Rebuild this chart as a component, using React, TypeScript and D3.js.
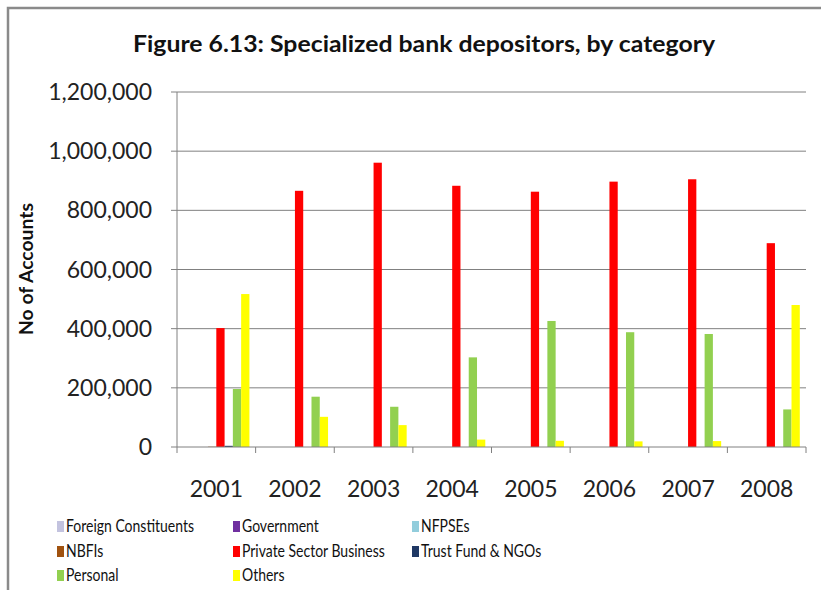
import React from "react";
import * as d3 from "d3";

const years = ["2001", "2002", "2003", "2004", "2005", "2006", "2007", "2008"];
const seriesNames = [
  "Foreign Constituents",
  "Government",
  "NFPSEs",
  "NBFIs",
  "Private Sector Business",
  "Trust Fund & NGOs",
  "Personal",
  "Others",
];
const seriesColors = ["#C3C3DF", "#7030A0", "#92CDDC", "#A0520F", "#FF0000", "#1F3864", "#92D050", "#FFFF00"];

const foreign = [0, 0, 0, 0, 0, 0, 0, 0];
const government = [0, 0, 0, 0, 0, 0, 0, 0];
const nfpses = [0, 0, 0, 0, 0, 0, 0, 0];
const nbfis = [1000, 0, 0, 0, 0, 0, 0, 0];
const privateSector = [402000, 866000, 961000, 883000, 863000, 897000, 905000, 689000];
const trustFund = [4000, 0, 0, 0, 0, 0, 0, 0];
const personal = [196000, 170000, 136000, 303000, 426000, 388000, 382000, 127000];
const others = [517000, 102000, 74000, 25000, 21000, 19000, 20000, 480000];

const seriesValues = [foreign, government, nfpses, nbfis, privateSector, trustFund, personal, others];
const yTicks = [0, 200000, 400000, 600000, 800000, 1000000, 1200000];

const W = 821;
const H = 590;
const left = 177;
const right = 806;
const top = 92;
const bottom = 447;
const font = "Lato, 'Open Sans', sans-serif";

export default function App() {
  const x0 = d3.scaleBand<string>().domain(years).range([left, right]).paddingInner(0).paddingOuter(0);
  const x1 = d3
    .scaleBand<string>()
    .domain(seriesNames)
    .range([0, x0.bandwidth()])
    .paddingInner(0)
    .paddingOuter(0.75);
  const y = d3.scaleLinear().domain([0, 1200000]).range([bottom, top]);
  const fmt = d3.format(",");

  const legendCols = [57, 233, 412];
  const legendRows = [526, 551, 575];

  return (
    <svg
      width={W}
      height={H}
      style={{ position: "absolute", left: 0, top: 0, background: "#fff" }}
      fontFamily={font}
    >
      <rect x={0} y={0} width={W} height={H} fill="#fff" />
      <rect x={8} y={8} width={W + 20} height={H + 20} fill="none" stroke="#8a8a8a" strokeWidth={2.5} />

      <text
        x={424}
        y={52}
        textAnchor="middle"
        fontSize={22}
        fontWeight="bold"
        fill="#111"
        textLength={582}
        lengthAdjust="spacingAndGlyphs"
      >
        Figure 6.13: Specialized bank depositors, by category
      </text>

      {/* gridlines */}
      {yTicks.map((t) => (
        <g key={t}>
          {t > 0 && <line x1={left} x2={right} y1={y(t)} y2={y(t)} stroke="#808080" strokeWidth={1} />}
          <line x1={left - 6} x2={left} y1={y(t)} y2={y(t)} stroke="#808080" strokeWidth={1} />
          <text x={152} y={y(t)} dy="0.35em" textAnchor="end" fontSize={23} fill="#222">
            {fmt(t)}
          </text>
        </g>
      ))}

      {/* bars */}
      {years.map((yr, i) => (
        <g key={yr} transform={`translate(${x0(yr)},0)`}>
          {seriesNames.map((s, j) => {
            const v = seriesValues[j][i];
            if (!v) return null;
            return (
              <rect
                key={s}
                x={x1(s)}
                y={y(v)}
                width={x1.bandwidth()}
                height={y(0) - y(v)}
                fill={seriesColors[j]}
              />
            );
          })}
        </g>
      ))}

      {/* axes */}
      <line x1={left} x2={left} y1={top} y2={bottom} stroke="#808080" strokeWidth={1} />
      <line x1={left} x2={right} y1={bottom} y2={bottom} stroke="#808080" strokeWidth={1} />
      {years.map((yr) => (
        <line key={yr} x1={x0(yr)} x2={x0(yr)} y1={bottom} y2={bottom + 6} stroke="#808080" strokeWidth={1} />
      ))}
      <line x1={right} x2={right} y1={bottom} y2={bottom + 6} stroke="#808080" strokeWidth={1} />

      {years.map((yr) => (
        <text
          key={yr}
          x={(x0(yr) as number) + x0.bandwidth() / 2}
          y={497}
          textAnchor="middle"
          fontSize={23}
          fill="#222"
        >
          {yr}
        </text>
      ))}

      <text
        transform={`translate(33,269) rotate(-90)`}
        textAnchor="middle"
        fontSize={18}
        fontWeight="bold"
        fill="#111"
        textLength={132}
        lengthAdjust="spacingAndGlyphs"
      >
        No of Accounts
      </text>

      {/* legend */}
      {seriesNames.map((s, j) => {
        const col = j % 3;
        const row = Math.floor(j / 3);
        const lx = legendCols[col];
        const ly = legendRows[row];
        return (
          <g key={s}>
            <rect x={lx} y={ly - 5} width={7} height={11} fill={seriesColors[j]} />
            <text
              transform={`translate(${lx + 9},${ly}) scale(0.8,1)`}
              dy="0.36em"
              fontSize={17.5}
              fill="#111"
            >
              {s}
            </text>
          </g>
        );
      })}
    </svg>
  );
}
